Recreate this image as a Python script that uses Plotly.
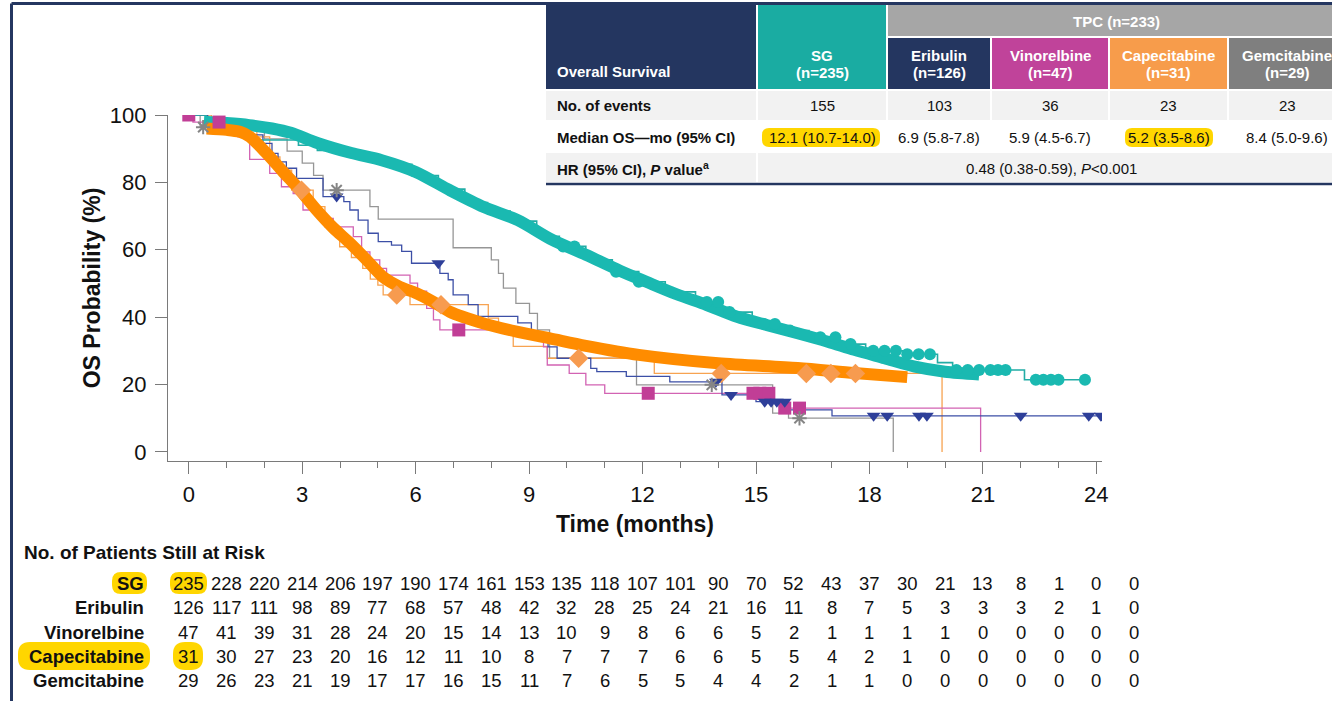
import plotly.graph_objects as go

# ------------------------------------------------------------------ data
# SG: smoothed thick overlay, Kaplan-Meier steps and censor marks
sg_smooth_t = [0.4, 1.0, 1.6, 2.2, 2.7, 3.4, 4.3, 5.1, 6.0, 6.9, 7.8, 8.7, 9.6, 10.5, 11.4, 12.1,
               12.9, 13.7, 14.5, 15.3, 16.1, 16.9, 17.6, 18.4, 19.2, 20.0, 20.9]
sg_smooth_p = [98.0, 97.6, 97.0, 96.0, 94.7, 91.7, 88.7, 86.6, 83.1, 77.7, 72.7, 68.8, 63.0, 58.5,
               53.8, 50.5, 46.8, 43.6, 40.1, 37.6, 35.2, 32.7, 30.3, 27.8, 25.3, 23.8, 23.0]
sg_km_t = [0, 0.45, 1.2, 1.6, 2.9, 3.4, 4.2, 5.0, 5.9, 6.6, 7.3, 7.9, 8.5, 9.2, 9.8, 10.5, 11.2,
           11.9, 12.6, 13.4, 14.1, 14.9, 15.6, 16.4, 17.2, 17.9, 19.0, 19.8, 20.2, 22.1, 23.7]
sg_km_p = [100, 98.3, 96.6, 92.6, 91.0, 89.5, 87.5, 85.4, 82.0, 78.0, 74.0, 71.5, 68.5, 64.0, 61.0,
           57.0, 53.5, 50.5, 47.5, 44.5, 41.5, 38.0, 36.0, 34.0, 32.0, 30.0, 29.0, 26.5, 24.3, 21.4, 21.4]
sg_cens_t = [9.9, 10.2, 11.3, 11.9, 13.7, 14.0, 14.3, 15.2, 15.5, 15.9, 16.7, 17.1, 17.5, 18.1, 18.4,
             18.7, 19.0, 19.3, 19.6, 20.3, 20.6, 20.9, 21.2, 21.4, 21.6, 22.4, 22.6, 22.8, 23.0, 23.7]
sg_cens_p = [61.0, 61.0, 53.5, 50.5, 44.5, 44.5, 41.5, 38.0, 38.0, 36.0, 34.0, 34.0, 32.0, 30.0, 30.0,
             30.0, 29.0, 29.0, 29.0, 24.3, 24.3, 24.3, 24.3, 24.3, 24.3, 21.4, 21.4, 21.4, 21.4, 21.4]

# TPC smoothed thick overlay (orange)
tpc_smooth_t = [0.47, 1.0, 1.35, 1.61, 2.06, 2.49, 2.94, 3.38, 3.82, 4.26, 4.70, 5.13, 5.58, 6.02,
                6.46, 6.90, 7.78, 8.67, 9.55, 10.5, 11.9, 14.0, 16.1, 17.6, 19.0]
tpc_smooth_p = [96.0, 95.6, 95.0, 93.6, 88.6, 83.2, 77.7, 71.8, 66.5, 62.0, 57.0, 52.0, 49.0, 47.1,
                44.6, 41.6, 38.2, 35.7, 33.7, 31.5, 28.8, 26.3, 24.9, 23.4, 22.2]

# Eribulin
eri_t = [0, 0.5, 1.2, 1.6, 1.96, 2.2, 2.36, 2.58, 2.85, 3.55, 4.1, 4.26, 4.48, 4.74, 5.01, 5.36,
         5.63, 5.89, 6.64, 6.86, 6.99, 7.39, 7.65, 8.7, 9.06, 9.3, 9.5, 9.74, 10.63, 10.79, 11.57,
         12.72, 14.1, 15.0, 15.86, 17.01, 24.12]
eri_p = [100, 98.4, 96.0, 94.1, 91.6, 88.6, 86.1, 84.2, 81.2, 75.8, 74.3, 71.8, 68.8, 64.9, 62.4,
         61.4, 59.5, 56.0, 53.0, 51.1, 46.6, 43.7, 40.2, 38.3, 35.5, 33.2, 31.2, 27.8, 24.8, 23.8,
         22.4, 20.8, 16.9, 14.9, 12.5, 10.7, 10.7]
eri_cens_t = [3.91, 6.6, 13.94, 14.34, 15.23, 15.4, 15.55, 15.76, 18.11, 18.47, 19.31, 19.52, 22.0, 23.8, 24.12]
eri_cens_p = [75.8, 56.0, 20.8, 16.9, 14.9, 14.9, 14.9, 14.9, 10.7, 10.7, 10.7, 10.7, 10.7, 10.7, 10.7]

# Vinorelbine
vin_t = [0, 0.11, 1.3, 1.61, 2.14, 2.45, 2.76, 3.02, 3.51, 3.82, 4.35, 4.57, 4.79, 5.05, 5.23,
         5.85, 6.05, 6.29, 6.47, 6.64, 9.07, 9.38, 9.48, 10.06, 10.5, 11.0, 15.44, 15.7, 20.94, 20.94]
vin_p = [100, 97.9, 93.5, 86.8, 82.7, 78.7, 76.7, 71.8, 69.3, 66.8, 63.9, 59.4, 57.0, 54.5, 52.5,
         50.1, 47.7, 42.6, 39.2, 36.2, 33.7, 31.2, 25.8, 23.3, 19.9, 17.4, 14.9, 13.0, 13.0, 0]
vin_cens_t = [0.0, 0.8, 7.14, 12.15, 14.92, 15.1, 15.34, 15.76, 16.15]
vin_cens_p = [100, 97.9, 36.2, 17.4, 17.4, 17.4, 17.4, 13.0, 13.0]

# Capecitabine
cap_t = [0, 0.6, 1.8, 2.14, 2.41, 2.72, 3.29, 3.6, 3.99, 4.3, 4.6, 4.8, 5.0, 5.14, 5.85, 7.92,
         8.19, 8.58, 9.48, 12.31, 19.92, 19.92]
cap_p = [100, 96.8, 93.5, 87.6, 83.6, 77.7, 72.8, 66.8, 60.9, 57.7, 54.5, 51.3, 49.5, 46.6, 43.7,
         39.7, 36.2, 31.3, 27.8, 23.3, 23.3, 0]
cap_cens_t = [2.98, 5.5, 6.67, 10.31, 14.08, 16.33, 16.98, 17.63]
cap_cens_p = [77.7, 46.6, 43.7, 27.8, 23.3, 23.3, 23.3, 23.3]

# Gemcitabine
gem_t = [0, 0.3, 2.0, 2.6, 3.0, 3.3, 3.55, 4.79, 5.01, 6.99, 8.0, 8.19, 8.32, 8.65, 9.01, 9.22,
         9.54, 11.84, 15.44, 15.86, 18.63, 18.63]
gem_p = [100, 96.4, 92.9, 89.3, 85.7, 82.1, 77.7, 72.8, 69.1, 60.6, 57.0, 53.0, 48.6, 44.1, 41.1,
         36.2, 27.8, 19.9, 11.5, 10.0, 10.0, 0]
gem_cens_t = [0.38, 3.91, 13.83, 16.15]
gem_cens_p = [96.4, 77.7, 19.9, 10.0]

# Axis ticks
x_ticks = [0, 3, 6, 9, 12, 15, 18, 21, 24]
y_ticks = [0, 20, 40, 60, 80, 100]

# Patients at risk
risk_times = [0, 1, 2, 3, 4, 5, 6, 7, 8, 9, 10, 11, 12, 13, 14, 15, 16, 17, 18, 19, 20, 21, 22, 23, 24, 25]
risk_labels = ["SG", "Eribulin", "Vinorelbine", "Capecitabine", "Gemcitabine"]
risk_sg = [235, 228, 220, 214, 206, 197, 190, 174, 161, 153, 135, 118, 107, 101, 90, 70, 52, 43, 37, 30, 21, 13, 8, 1, 0, 0]
risk_eri = [126, 117, 111, 98, 89, 77, 68, 57, 48, 42, 32, 28, 25, 24, 21, 16, 11, 8, 7, 5, 3, 3, 3, 2, 1, 0]
risk_vin = [47, 41, 39, 31, 28, 24, 20, 15, 14, 13, 10, 9, 8, 6, 6, 5, 2, 1, 1, 1, 1, 0, 0, 0, 0, 0]
risk_cap = [31, 30, 27, 23, 20, 16, 12, 11, 10, 8, 7, 7, 7, 6, 6, 5, 5, 4, 2, 1, 0, 0, 0, 0, 0, 0]
risk_gem = [29, 26, 23, 21, 19, 17, 17, 16, 15, 11, 7, 6, 5, 5, 4, 4, 2, 1, 1, 0, 0, 0, 0, 0, 0, 0]

# Summary table
tbl_title = "Overall Survival"
tbl_group = "TPC (n=233)"
tbl_arms = ["SG", "Eribulin", "Vinorelbine", "Capecitabine", "Gemcitabine"]
tbl_n = ["(n=235)", "(n=126)", "(n=47)", "(n=31)", "(n=29)"]
tbl_rows = ["No. of events", "Median OS\u2014mo (95% CI)", "HR (95% CI), <i>P</i> value<sup>a</sup>"]
tbl_events = ["155", "103", "36", "23", "23"]
tbl_median = ["12.1 (10.7-14.0)", "6.9 (5.8-7.8)", "5.9 (4.5-6.7)", "5.2 (3.5-8.6)", "8.4 (5.0-9.6)"]
tbl_hr = "0.48 (0.38-0.59), <i>P</i>&lt;0.001"

# ------------------------------------------------------------------ styling
W, H = 1332, 701
FONT = "Liberation Sans, Arial, sans-serif"
NAVY = "#243660"
C_SG = "#1ab9b1"
C_TPC = "#ff8c00"
C_ERI = "#3c4fa6"
C_VIN = "#d263b3"
C_CAP = "#f7a351"
C_GEM = "#969696"
YEL = "#ffd600"

X_DOMAIN = [168 / W, 1102 / W]
X_RANGE = [-0.55, 24.15]


def X(px):
    return px / W


def Y(py):
    return 1 - py / H


def x_to_paper(t):
    # same linear mapping the x axis uses
    return X_DOMAIN[0] + (t - X_RANGE[0]) / (X_RANGE[1] - X_RANGE[0]) * (X_DOMAIN[1] - X_DOMAIN[0])


fig = go.Figure()


def step(t, p, color, width=1.3):
    fig.add_trace(go.Scatter(x=t, y=p, mode="lines", line=dict(color=color, width=width, shape="hv"),
                             hoverinfo="skip", showlegend=False))


def cens(t, p, color, symbol, size, lw=0):
    fig.add_trace(go.Scatter(x=t, y=p, mode="markers",
                             marker=dict(color=color, symbol=symbol, size=size,
                                         line=dict(color=color, width=lw)),
                             hoverinfo="skip", showlegend=False))


step(gem_t, gem_p, C_GEM)
step(cap_t, cap_p, C_CAP)
step(vin_t, vin_p, C_VIN)
step(eri_t, eri_p, C_ERI)
step(sg_km_t, sg_km_p, "#22aca5", 1.6)

fig.add_trace(go.Scatter(x=sg_smooth_t, y=sg_smooth_p, mode="lines",
                         line=dict(color=C_SG, width=12, shape="spline", smoothing=0.8),
                         hoverinfo="skip", showlegend=False))
fig.add_trace(go.Scatter(x=tpc_smooth_t, y=tpc_smooth_p, mode="lines",
                         line=dict(color=C_TPC, width=12, shape="spline", smoothing=0.8),
                         hoverinfo="skip", showlegend=False))

cens(sg_cens_t, sg_cens_p, C_SG, "circle", 12)
cens(cap_cens_t, cap_cens_p, "#f79b4f", "diamond", 15)
cens(vin_cens_t, vin_cens_p, "#c13e96", "square", 13)
cens(eri_cens_t, eri_cens_p, "#2e3f99", "triangle-down", 12)
cens(gem_cens_t, gem_cens_p, "#858585", "asterisk-open", 12, 2)

shapes = []
annotations = []


def rect(x0, y0, x1, y1, color, layer="above"):
    shapes.append(dict(type="rect", xref="paper", yref="paper", x0=X(x0), x1=X(x1), y0=Y(y1), y1=Y(y0),
                       fillcolor=color, line=dict(width=0), layer=layer))


def pill(x0, y0, x1, y1, r, color):
    pts = lambda a, b: f"{X(a):.5f},{Y(b):.5f}"
    path = (f"M {pts(x0 + r, y0)} L {pts(x1 - r, y0)} Q {pts(x1, y0)} {pts(x1, y0 + r)} "
            f"L {pts(x1, y1 - r)} Q {pts(x1, y1)} {pts(x1 - r, y1)} L {pts(x0 + r, y1)} "
            f"Q {pts(x0, y1)} {pts(x0, y1 - r)} L {pts(x0, y0 + r)} Q {pts(x0, y0)} {pts(x0 + r, y0)} Z")
    shapes.append(dict(type="path", xref="paper", yref="paper", path=path, fillcolor=color,
                       line=dict(width=0), layer="above"))


def txt(px, py, s, size=15, color="#111111", bold=False, xanchor="center", paper_x=None):
    annotations.append(dict(x=(paper_x if paper_x is not None else X(px)), y=Y(py), xref="paper", yref="paper",
                            text=(f"<b>{s}</b>" if bold else s), showarrow=False,
                            xanchor=xanchor, yanchor="middle",
                            font=dict(family=FONT, size=size, color=color)))


# ---------------- summary table (top right)
col_edges = [(758, 886), (888, 990), (992, 1108), (1110, 1227), (1229, 1345)]
col_colors = ["#1aaca2", NAVY, "#c0439a", "#f79c4b", "#7f7f7f"]
rect(546, 5, 756, 89, NAVY)
rect(col_edges[0][0], 5, col_edges[0][1], 89, col_colors[0])
rect(888, 5, 1345, 36, "#a6a6a6")
for (a, b), c in zip(col_edges[1:], col_colors[1:]):
    rect(a, 38, b, 89, c)
rect(546, 91, 756, 120, "#f2f2f2")
for (a, b) in col_edges:
    rect(a, 91, b, 120, "#f2f2f2")
rect(546, 153, 756, 182, "#f2f2f2")
rect(758, 153, 1345, 182, "#f2f2f2")
pill(762, 128, 880, 147, 7, YEL)
pill(1125, 128, 1213, 147, 7, YEL)

txt(555, 72, tbl_title, 15, "white", True, "left")
txt(1116, 21, tbl_group, 15, "white", True)
for i, ((a, b), arm, n) in enumerate(zip(col_edges, tbl_arms, tbl_n)):
    cx = (a + b) / 2
    txt(cx, 55, arm, 15, "white", True)
    txt(cx, 73, n, 15, "white", True)
    txt(cx, 105, tbl_events[i], 15)
    txt(cx, 137, tbl_median[i], 15)
txt(555, 105, tbl_rows[0], 15, "#111111", True, "left")
txt(555, 137, tbl_rows[1], 15, "#111111", True, "left")
txt(555, 169, tbl_rows[2], 15, "#111111", True, "left")
txt(1051, 169, tbl_hr, 15)

# frame lines
shapes.append(dict(type="line", xref="paper", yref="paper", x0=X(11.5), x1=X(11.5), y0=Y(701), y1=Y(3.5),
                   line=dict(color=NAVY, width=3), layer="above"))
shapes.append(dict(type="line", xref="paper", yref="paper", x0=X(11.5), x1=X(1332), y0=Y(3.5), y1=Y(3.5),
                   line=dict(color=NAVY, width=3), layer="above"))
shapes.append(dict(type="line", xref="paper", yref="paper", x0=X(546), x1=X(1332), y0=Y(184), y1=Y(184),
                   line=dict(color=NAVY, width=2.5), layer="above"))

# ---------------- patients at risk
pill(112, 572, 147, 594, 9, YEL)
pill(170, 572, 207, 594, 9, YEL)
pill(18, 642, 150, 670, 12, YEL)
pill(173, 642, 203, 670, 12, YEL)
txt(22, 552, "No. of Patients Still at Risk", 19, "#111111", True, "left")
row_y = [583, 607, 632, 656, 680]
for lab, vals, yy in zip(risk_labels, [risk_sg, risk_eri, risk_vin, risk_cap, risk_gem], row_y):
    txt(146, yy, lab, 18.5, "#111111", True, "right")
    for t, v in zip(risk_times, vals):
        txt(0, yy, str(v), 18.5, "#111111", False, "center", paper_x=x_to_paper(t))

axis_col = "#7a7a7a"
fig.update_layout(
    width=W, height=H, autosize=False,
    margin=dict(l=0, r=0, t=0, b=0, autoexpand=False),
    paper_bgcolor="white", plot_bgcolor="white",
    font=dict(family=FONT, color="#111111"),
    shapes=shapes, annotations=annotations,
    xaxis=dict(domain=X_DOMAIN, range=X_RANGE, tickvals=x_ticks, automargin=False,
               ticks="outside", ticklen=12, tickwidth=1.3, tickcolor=axis_col,
               minor=dict(dtick=1, tick0=0, ticks="outside", ticklen=6, tickwidth=1.2, tickcolor=axis_col),
               showline=True, linecolor=axis_col, linewidth=1.3, showgrid=False, zeroline=False,
               tickfont=dict(size=22, color="#111111"), ticklabelstandoff=1,
               title=dict(text="<b>Time (months)</b>", font=dict(size=23, color="#111111"), standoff=10)),
    yaxis=dict(domain=[Y(461), Y(115)], range=[-2.7, 100], tickvals=y_ticks, automargin=False,
               ticks="outside", ticklen=12, tickwidth=1.3, tickcolor=axis_col,
               showline=True, linecolor=axis_col, linewidth=1.3, showgrid=False, zeroline=False,
               tickfont=dict(size=22, color="#111111"), ticklabelstandoff=4,
               title=dict(text="<b>OS Probability (%)</b>", font=dict(size=23, color="#111111"), standoff=2)),
)

fig.write_html(
    "out.html",
    config={"displayModeBar": False},
    post_script=("document.body.style.margin='0';document.body.style.overflow='hidden';"
                 "var g=document.getElementById('{plot_id}');g.style.position='absolute';"
                 "g.style.left='0px';g.style.top='0px';"),
)
